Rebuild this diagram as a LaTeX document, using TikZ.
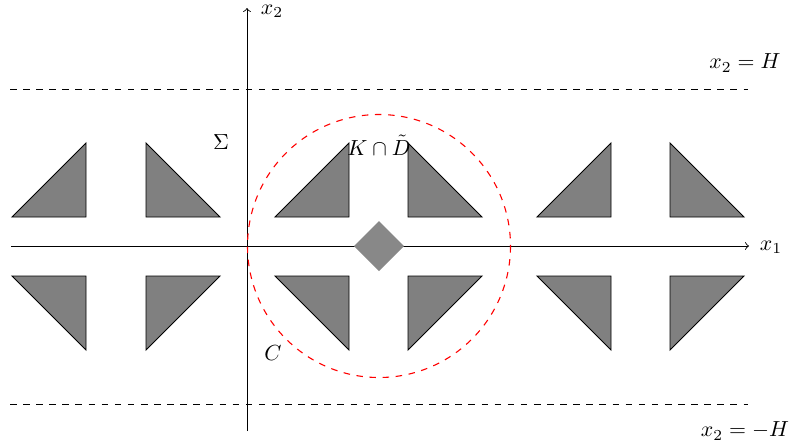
\documentclass[tikz,border=0pt]{standalone}
\usepackage{amssymb}
\begin{document}
\begin{tikzpicture}[x=0.0161cm,y=-0.0161cm,
  tri/.style={draw=black,fill=gray,line width=0.4pt},
  axis/.style={->,line width=0.4pt},
  bound/.style={dashed,line width=0.4pt},
  lbl/.style={inner sep=0pt}]
\useasboundingbox (0,0) rectangle (789,445);
% axes
\coordinate (xa) at (11,246);
\coordinate (xb) at (749,246);
\coordinate (ya) at (247,431);
\coordinate (yb) at (247,8);
\draw[axis] (xa) -- (xb);
\draw[axis] (ya) -- (yb);
% boundaries
\coordinate (ha) at (10,89);
\coordinate (hb) at (748,89);
\coordinate (la) at (10,404);
\coordinate (lb) at (748,404);
\draw[bound] (ha) -- (hb);
\draw[bound] (la) -- (lb);
% triangles
\foreach \a in {12,275,537}{
  \draw[tri] (\a,217) -- (\a+74,217) -- (\a+74,143) -- cycle;
  \draw[tri] (\a,276) -- (\a+74,276) -- (\a+74,350) -- cycle;
}
\foreach \a in {146,408,670}{
  \draw[tri] (\a,143) -- (\a,217) -- (\a+74,217) -- cycle;
  \draw[tri] (\a,276) -- (\a+74,276) -- (\a,350) -- cycle;
}
% diamond
\fill[fill={rgb,255:red,136;green,136;blue,136}] (379,221) -- (404,246) -- (379,271) -- (354,246) -- cycle;
% circle
\draw[red,dashed,line width=0.5pt] (379,246) circle[radius=131.5];
% labels
\node[lbl] (lx2) at (272,11) {$x_2$};
\node[lbl] (lx1) at (771,247) {$x_1$};
\node[lbl] (lH) at (745,63) {$x_2 = H$};
\node[lbl] (lmH) at (745,431) {$x_2 = -H$};
\node[lbl] (lS) at (221,142) {$\Sigma$};
\node[lbl] (lK) at (379,145) {$K \cap \tilde{D}$};
\node[lbl] (lC) at (273,353) {$C$};
\end{tikzpicture}
\end{document}
